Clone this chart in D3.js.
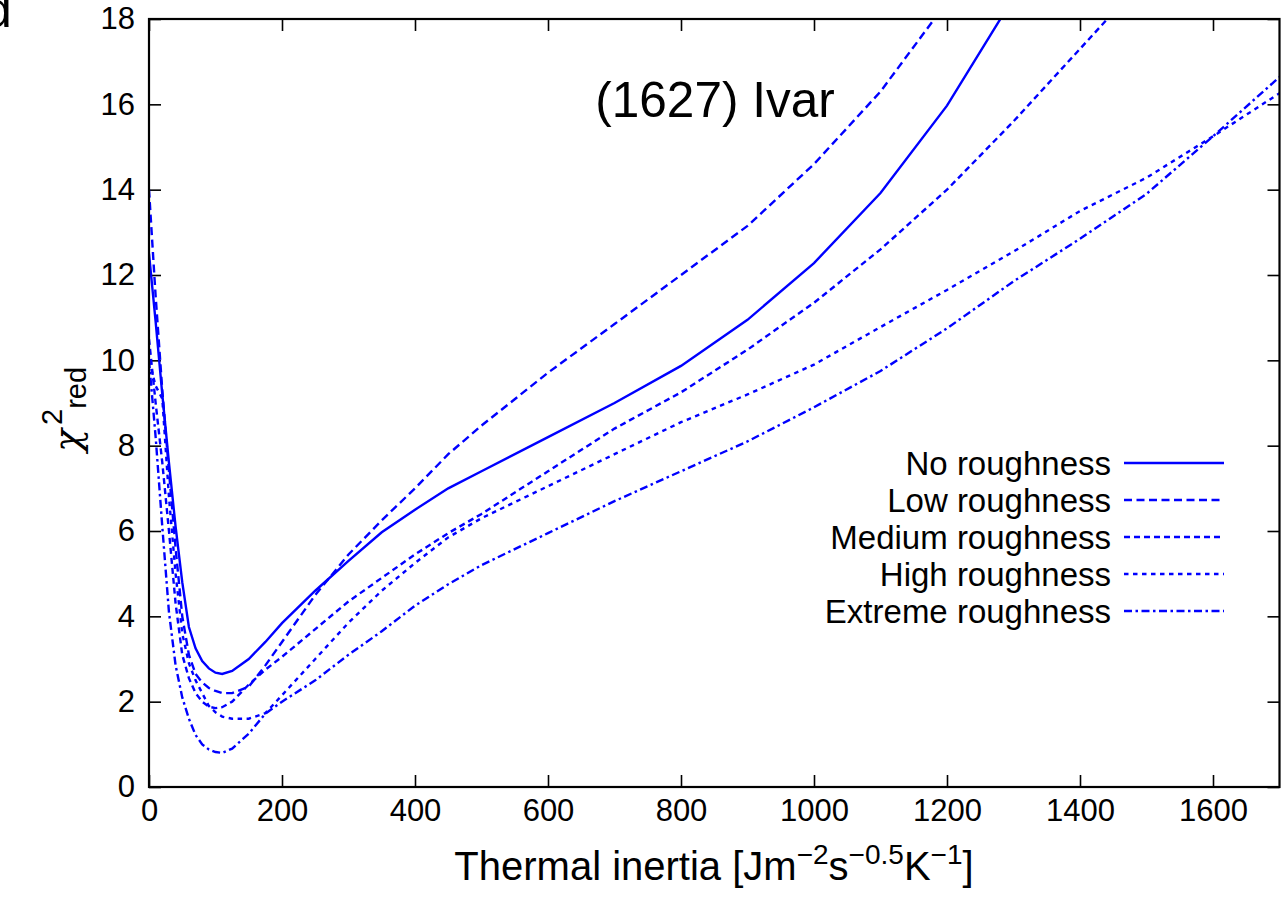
<!DOCTYPE html>
<html>
<head>
<meta charset="utf-8">
<script src="https://cdn.jsdelivr.net/npm/d3@7"></script>
<style>
  body { margin: 0; background: #fff; }
  text { font-family: "Liberation Sans", Arial, Helvetica, sans-serif; }
</style>
</head>
<body>
<div id="my_dataviz"></div>
<script>
const width = 1286
const height = 909

// thermal inertia grid
const inertia = [0, 10, 20, 30, 40, 50, 60, 70, 80, 90, 100, 110, 125, 150, 175, 200, 250, 300, 350, 400, 450, 500,
  600, 700, 800, 900, 1000, 1100, 1200, 1300, 1400, 1500, 1600, 1700]

// reduced chi-square per roughness model
const noRough = [12.5, 10.9, 9.2, 7.6, 6.1, 4.8, 3.75, 3.25, 2.95, 2.78, 2.68, 2.65, 2.72, 3.0, 3.4, 3.84, 4.6, 5.3, 5.97, 6.5, 7.0, 7.4,
  8.2, 9.0, 9.87, 10.95, 12.28, 13.92, 15.97, 18.5, 21, 24, 27, 30]
const lowRough = [14.0, 11.5, 9.3, 7.4, 5.6, 4.0, 3.1, 2.65, 2.45, 2.32, 2.25, 2.2, 2.2, 2.35, 2.85, 3.4, 4.5, 5.45, 6.25, 7.0, 7.8, 8.47,
  9.71, 10.85, 12.0, 13.15, 14.6, 16.3, 18.4, 20.5, 23, 25.5, 28, 31]
const medRough = [10.5, 9.0, 7.6, 6.0, 4.3, 3.1, 2.55, 2.2, 2.0, 1.88, 1.85, 1.87, 2.0, 2.4, 2.75, 3.05, 3.7, 4.35, 4.9, 5.45, 5.95, 6.4,
  7.4, 8.4, 9.25, 10.25, 11.35, 12.6, 14.0, 15.6, 17.3, 19.0, 21, 23]
const highRough = [10.0, 9.4, 9.1, 6.8, 5.0, 3.6, 2.9, 2.5, 2.2, 1.9, 1.75, 1.65, 1.6, 1.6, 1.73, 2.15, 3.0, 3.85, 4.6, 5.25, 5.85, 6.3,
  7.05, 7.8, 8.55, 9.2, 9.9, 10.78, 11.65, 12.55, 13.5, 14.28, 15.25, 16.26]
const extRough = [10.0, 8.2, 6.1, 4.1, 2.85, 2.1, 1.6, 1.22, 1.0, 0.88, 0.82, 0.8, 0.9, 1.25, 1.72, 2.0, 2.5, 3.1, 3.65, 4.25, 4.75, 5.2,
  5.95, 6.7, 7.4, 8.1, 8.9, 9.75, 10.75, 11.85, 12.85, 13.9, 15.25, 16.64]

const seriesNames = ["No roughness", "Low roughness", "Medium roughness", "High roughness", "Extreme roughness"]
const seriesValues = [noRough, lowRough, medRough, highRough, extRough]
const dashes = ["none", "8,4.5", "6,4", "4.5,4.5", "8,3.5,2.5,3.5"]

const xTicks = [0, 200, 400, 600, 800, 1000, 1200, 1400, 1600]
const yTicks = [0, 2, 4, 6, 8, 10, 12, 14, 16, 18]

const plotL = 149, plotR = 1279.5, plotT = 19, plotB = 787
const x = d3.scaleLinear().domain([0, 1700]).range([plotL, plotR])
const y = d3.scaleLinear().domain([0, 18]).range([plotB, plotT])

const svg = d3.select("#my_dataviz")
  .append("svg")
    .attr("width", width)
    .attr("height", height)

svg.append("defs").append("clipPath").attr("id", "plotclip")
  .append("rect")
    .attr("x", plotL).attr("y", plotT)
    .attr("width", plotR - plotL).attr("height", plotB - plotT)

// ticks, inward on all four sides
const tickLen = 12
const bottomAxis = d3.axisBottom(x).tickValues(xTicks).tickSize(-tickLen).tickPadding(12).tickFormat(d3.format("d"))
const topAxis = d3.axisTop(x).tickValues(xTicks).tickSize(-tickLen).tickFormat("")
const leftAxis = d3.axisLeft(y).tickValues(yTicks).tickSize(-tickLen).tickPadding(14).tickFormat(d3.format("d"))
const rightAxis = d3.axisRight(y).tickValues(yTicks).tickSize(-tickLen).tickFormat("")

function styleAxis(g) {
  g.select(".domain").remove()
  g.selectAll(".tick line").attr("stroke", "#000").attr("stroke-width", 1.6)
  g.selectAll(".tick text").attr("fill", "#000").style("font-size", "31px")
    .style("font-family", "'Liberation Sans', Arial, sans-serif")
}

svg.append("g").attr("transform", `translate(0,${plotB})`).call(bottomAxis).call(styleAxis)
svg.append("g").attr("transform", `translate(0,${plotT})`).call(topAxis).call(styleAxis)
svg.append("g").attr("transform", `translate(${plotL},0)`).call(leftAxis).call(styleAxis)
svg.append("g").attr("transform", `translate(${plotR},0)`).call(rightAxis).call(styleAxis)

// curves
const line = d3.line()
  .x((d, i) => x(inertia[i]))
  .y(d => y(d))

const curves = svg.append("g").attr("clip-path", "url(#plotclip)")
seriesValues.forEach(function(vals, k) {
  curves.append("path")
    .datum(vals)
    .attr("d", line)
    .attr("fill", "none")
    .attr("stroke", "#0000ff")
    .attr("stroke-width", 2.4)
    .attr("stroke-dasharray", dashes[k])
})

// frame
svg.append("rect")
  .attr("x", plotL).attr("y", plotT)
  .attr("width", plotR - plotL).attr("height", plotB - plotT)
  .attr("fill", "none").attr("stroke", "#000").attr("stroke-width", 2.2)

// legend
const legend = svg.append("g")
seriesNames.forEach(function(name, k) {
  const ly = 463 + k * 37
  legend.append("text")
    .attr("x", 1111).attr("y", ly + 12)
    .attr("text-anchor", "end")
    .style("font-size", "33px")
    .text(name)
  legend.append("line")
    .attr("x1", 1124).attr("x2", 1224)
    .attr("y1", ly).attr("y2", ly)
    .attr("stroke", "#0000ff")
    .attr("stroke-width", 2.4)
    .attr("stroke-dasharray", dashes[k])
})

// title
svg.append("text")
  .attr("x", 715).attr("y", 117)
  .attr("text-anchor", "middle")
  .style("font-size", "49.5px")
  .text("(1627) Ivar")

// x label
const xl = svg.append("text")
  .attr("x", 714).attr("y", 880)
  .attr("text-anchor", "middle")
  .style("font-size", "40px")
xl.append("tspan").text("Thermal inertia [Jm")
xl.append("tspan").attr("dy", -16).style("font-size", "28px").text("−2")
xl.append("tspan").attr("dy", 16).text("s")
xl.append("tspan").attr("dy", -16).style("font-size", "28px").text("−0.5")
xl.append("tspan").attr("dy", 16).text("K")
xl.append("tspan").attr("dy", -16).style("font-size", "28px").text("−1")
xl.append("tspan").attr("dy", 16).text("]")

// y label
const yl = svg.append("text")
  .attr("transform", "translate(80,452) rotate(-90)")
  .style("font-size", "38px")
yl.append("tspan").style("font-family", "'DejaVu Serif', serif").style("font-style", "italic").text("χ")
yl.append("tspan").attr("dy", -18).attr("dx", 4).style("font-size", "29px").text("2")
yl.append("tspan").attr("dy", 24).attr("dx", 0).style("font-size", "29px").text("red")

// panel letter, cut by the page edge
svg.append("text")
  .attr("x", -16).attr("y", 27)
  .style("font-size", "50px")
  .text("d")
</script>
</body>
</html>
